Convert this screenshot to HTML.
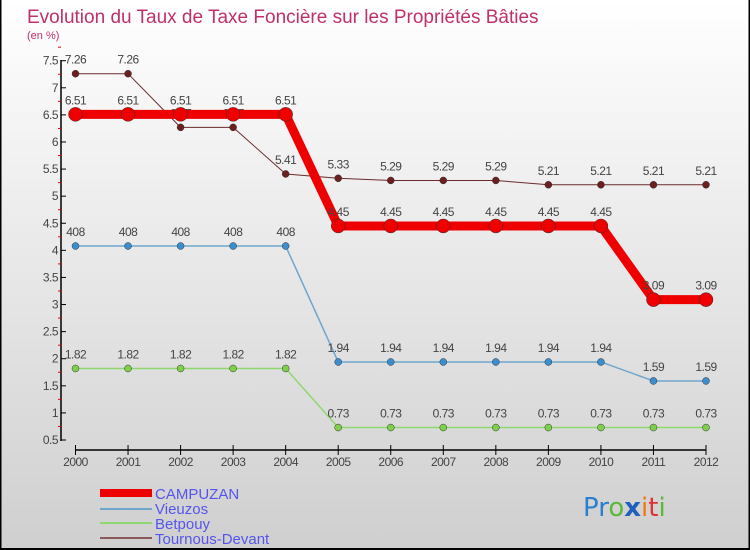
<!DOCTYPE html>
<html><head><meta charset="utf-8"><style>
body{margin:0}
#c{width:750px;height:550px;position:relative;overflow:hidden;font-family:"Liberation Sans",sans-serif}
</style></head><body>
<div id="c">
<svg id="s" width="750" height="550" xmlns="http://www.w3.org/2000/svg">
<defs><linearGradient id="bg" x1="0" y1="0" x2="0" y2="1"><stop offset="0" stop-color="#ffffff"/><stop offset="1" stop-color="#cfcfcf"/></linearGradient></defs>
<rect x="0" y="0" width="750" height="550" fill="url(#bg)"/>
<rect x="0.5" y="-1" width="749" height="550" fill="none" stroke="#000" stroke-width="2"/>
<text x="27" y="23" font-size="19" fill="#c0306a">Evolution du Taux de Taxe Foncière sur les Propriétés Bâties</text>
<text x="27" y="39" font-size="11" fill="#c0306a">(en %)</text>
<g id="axes"></g><g id="series"></g>
<g>
<rect x="100" y="489" width="52" height="8" fill="#ee0000"/>
<text x="155" y="499" font-size="15" fill="#5555ee">CAMPUZAN</text>
<rect x="100" y="508" width="52" height="2" fill="#6fa6cc"/>
<text x="155" y="514" font-size="15" fill="#5555ee">Vieuzos</text>
<rect x="100" y="522" width="52" height="2" fill="#8fd86f"/>
<text x="155" y="529" font-size="15" fill="#5555ee">Betpouy</text>
<rect x="100" y="537" width="52" height="2" fill="#8a5a5a"/>
<text x="155" y="544" font-size="15" fill="#5555ee">Tournous-Devant</text>
</g>
<g font-size="26" font-family="DejaVu Sans, sans-serif">
<text x="583" y="516"><tspan fill="#2a7fcf">Pr</tspan><tspan fill="#5cb83a">o</tspan><tspan fill="#1f5fbf" font-weight="bold">x</tspan><tspan fill="#f07a10">i</tspan><tspan fill="#e03030">t</tspan><tspan fill="#5cb83a">i</tspan></text>
</g>
</svg>
</div>
<script>
const years=[2000,2001,2002,2003,2004,2005,2006,2007,2008,2009,2010,2011,2012];
const campuzan=[6.51,6.51,6.51,6.51,6.51,4.45,4.45,4.45,4.45,4.45,4.45,3.09,3.09];
const vieuzos=[4.08,4.08,4.08,4.08,4.08,1.94,1.94,1.94,1.94,1.94,1.94,1.59,1.59];
const betpouy=[1.82,1.82,1.82,1.82,1.82,0.73,0.73,0.73,0.73,0.73,0.73,0.73,0.73];
const tournous=[7.26,7.26,6.27,6.27,5.41,5.33,5.29,5.29,5.29,5.21,5.21,5.21,5.21];
const yTicks=[0.5,1,1.5,2,2.5,3,3.5,4,4.5,5,5.5,6,6.5,7,7.5];
const NS="http://www.w3.org/2000/svg";
function X(i){return 75.5+i*(706-75.5)/(years.length-1);}
function Y(v){return 440-(v-0.5)*(440-60.7)/7;}
function mk(t,a,p){const e=document.createElementNS(NS,t);for(const k in a)e.setAttribute(k,a[k]);p.appendChild(e);return e;}
const ax=document.getElementById('axes');
let l=mk('line',{x1:61,y1:60,x2:61,y2:441,stroke:'#000','stroke-width':1.5},ax);


yTicks.forEach(v=>{
  const y=Y(v);
  mk('line',{x1:61,y1:y,x2:66,y2:y,stroke:'#000'},ax);
  mk('line',{x1:58,y1:Y(v+0.25),x2:61,y2:Y(v+0.25),stroke:'#e00'},ax);
  const t=mk('text',{x:58,y:y+4,'font-size':12,'text-anchor':'end',fill:'#444','letter-spacing':'-0.5'},ax);
  t.textContent=v;
  
  
});
l=mk('line',{x1:75.5,y1:450,x2:706,y2:450,stroke:'#000','stroke-width':1.5},ax);


years.forEach((yr,i)=>{
  mk('line',{x1:X(i),y1:445,x2:X(i),y2:455,stroke:'#000'},ax);
  const t=mk('text',{x:X(i),y:466,'font-size':12,'text-anchor':'middle',fill:'#444','letter-spacing':'-0.5'},ax);
  t.textContent=yr;
  
  
});
const sg=document.getElementById('series');
function draw(data,name,color,w,r,fill,fmt){
  const g=mk('g',{},sg);
  
  
  const p=mk('polyline',{points:data.map((v,i)=>X(i)+','+Y(v)).join(' '),fill:'none',stroke:color,'stroke-width':w,'stroke-linejoin':'round'},g);
  
  
  data.forEach((v,i)=>{
    const c=mk('circle',{cx:X(i),cy:Y(v),r:r,fill:fill,stroke:'#333','stroke-width':0.5},g);
    
    
    const t=mk('text',{x:X(i),y:Y(v)-10,'font-size':12,'text-anchor':'middle',fill:'#444','letter-spacing':'-0.5'},g);
    t.textContent=fmt(v);
    
    
  });
}
draw(tournous,'tournous-devant','#6b2a2a',1,3.5,'#6b1f1f',v=>String(v));
draw(vieuzos,'vieuzos','#6fa6cc',1.5,3.5,'#3a8ed0',v=>v>=4?String(Math.round(v*100)):String(v));
draw(betpouy,'betpouy','#8fd86f',1.5,3.5,'#7ed04a',v=>String(v));
draw(campuzan,'campuzan','#ee0000',9,7,'#ee0000',v=>String(v));
</script>
</body></html>
